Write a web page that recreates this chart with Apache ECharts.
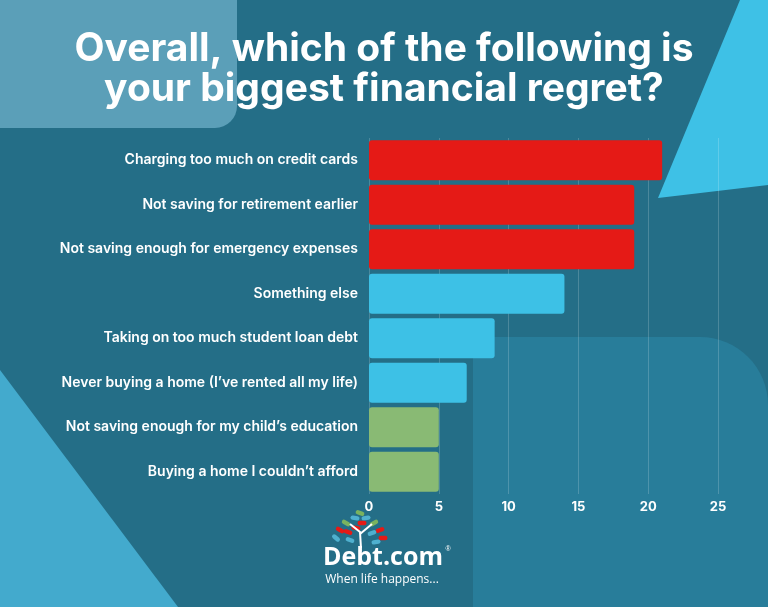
<!DOCTYPE html>
<html>
<head>
<meta charset="utf-8">
<script src="https://cdn.jsdelivr.net/npm/echarts@6/dist/echarts.min.js"></script>
<style>html,body{margin:0;padding:0;background:#246e87;}#c{width:768px;height:607px;}</style>
</head>
<body>
<div id="c"></div>
<script>
const titleLines = ["Overall, which of the following is", "your biggest financial regret?"];
const categories = [
  "Charging too much on credit cards",
  "Not saving for retirement earlier",
  "Not saving enough for emergency expenses",
  "Something else",
  "Taking on too much student loan debt",
  "Never buying a home (I\u2019ve rented all my life)",
  "Not saving enough for my child\u2019s education",
  "Buying a home I couldn\u2019t afford"
];
const values = [21, 19, 19, 14, 9, 7, 5, 5];
const groupOfBar = ["top", "top", "top", "mid", "mid", "mid", "low", "low"];
const xTicks = [0, 5, 10, 15, 20, 25];
const brandName = "Debt.com";
const brandTag = "When life happens...";

const groupColors = { top: "#e51a16", mid: "#3dc1e6", low: "#89ba74" };
const FONT = "Inter, 'Noto Sans', sans-serif";

const chart = echarts.init(document.getElementById('c'), null, { renderer: 'canvas' });

// rounded-corner decoration outline (bottom-right panel)
const panelPts = [[473, 337], [700, 337]];
for (let k = 1; k <= 16; k++) {
  const a = -Math.PI / 2 + (Math.PI / 2) * k / 16;
  panelPts.push([700 + 68 * Math.cos(a), 405 + 68 * Math.sin(a)]);
}
panelPts.push([768, 607], [473, 607]);

const leaves = [
  [336,538,'#4fb0cf',-40],[340,530,'#e51a16',-30],[346,523,'#7ab35f',-30],[355,518,'#4fb0cf',-10],
  [366,518,'#4fb0cf',10],[374,523,'#7ab35f',30],[380,530,'#e51a16',20],[383,538,'#e51a16',0],
  [348,532,'#e51a16',-20],[356,528,'#e51a16',-10],[372,533,'#4fb0cf',20],[362,523,'#e51a16',0],
  [350,540,'#4fb0cf',-20],[376,542,'#4fb0cf',10],[360,513,'#7ab35f',-20]
];
const leafEls = leaves.map(l => ({
  type: 'rect', shape: { x: -4.5, y: -2.2, width: 9, height: 4.4, r: 2.2 }, x: l[0], y: l[1], rotation: l[3] * Math.PI / 180,
  style: { fill: l[2] }, z: 5
}));

chart.setOption({
  backgroundColor: '#246e87',
  animation: false,
  title: {
    text: titleLines.join('\n'),
    left: 'center',
    top: 24,
    textStyle: { color: '#ffffff', fontFamily: FONT, fontWeight: 700, fontSize: 39, lineHeight: 40 }
  },
  graphic: [
    { type: 'rect', shape: { x: -20, y: -20, width: 257, height: 148, r: [0, 0, 22, 0] }, style: { fill: '#5b9fb8' }, z: -10 },
    { type: 'polygon', shape: { points: [[740, 0], [768, 0], [768, 185], [658, 198]] }, style: { fill: '#3ec1e6' }, z: -10 },
    { type: 'polygon', shape: { points: panelPts }, style: { fill: '#287d9a' }, z: -10 },
    { type: 'polygon', shape: { points: [[0, 370], [178, 607], [0, 607]] }, style: { fill: '#43aacd' }, z: -10 },
    ...leafEls,
    { type: 'polyline', shape: { points: [[361, 548], [360, 532], [350, 524]] }, style: { stroke: '#ffffff', lineWidth: 2, fill: null }, z: 5 },
    { type: 'polyline', shape: { points: [[360, 534], [372, 524]] }, style: { stroke: '#ffffff', lineWidth: 2, fill: null }, z: 5 },
    { type: 'text', x: 383, y: 558, style: { text: brandName, fill: '#ffffff', font: "bold 25px 'Open Sans', sans-serif", textAlign: 'center', textVerticalAlign: 'middle' }, z: 5 },
    { type: 'text', x: 448, y: 549, style: { text: '\u00AE', fill: '#ffffff', font: "7px sans-serif", textAlign: 'center', textVerticalAlign: 'middle' }, z: 5 },
    { type: 'text', x: 382, y: 580, style: { text: brandTag, fill: '#ffffff', font: "12px 'Open Sans', sans-serif", textAlign: 'center', textVerticalAlign: 'middle' }, z: 5 }
  ],
  grid: { left: 369, right: 50, top: 138, bottom: 113, containLabel: false },
  xAxis: {
    type: 'value', min: 0, max: 25, interval: 5,
    axisLine: { show: false }, axisTick: { show: false },
    splitLine: { show: true, lineStyle: { color: 'rgba(255,255,255,0.18)', width: 1 } },
    axisLabel: {
      color: '#ffffff', fontFamily: FONT, fontWeight: 700, fontSize: 13, margin: 7,
      formatter: v => xTicks.includes(v) ? String(v) : ''
    }
  },
  yAxis: {
    type: 'category', data: categories, inverse: true,
    axisLine: { show: false }, axisTick: { show: false }, splitLine: { show: false },
    axisLabel: { color: '#ffffff', fontFamily: FONT, fontWeight: 600, fontSize: 14, margin: 11 }
  },
  series: [{
    type: 'bar',
    data: values.map((v, i) => ({ value: v, itemStyle: { color: groupColors[groupOfBar[i]] } })),
    barCategoryGap: '10%',
    itemStyle: { borderRadius: 3 },
    z: 3
  }]
});
</script>
</body>
</html>
